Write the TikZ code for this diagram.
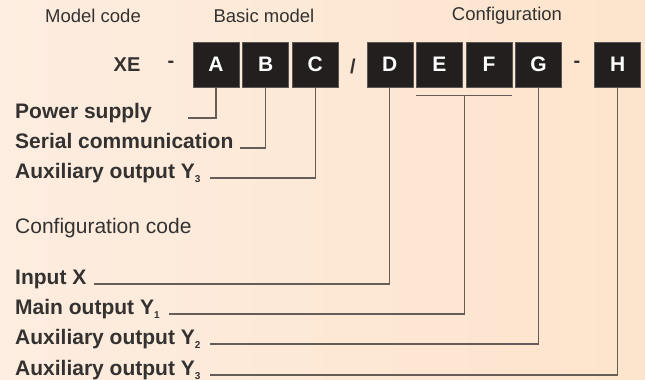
\documentclass[tikz,border=0pt]{standalone}
\usepackage{fontspec}
\setmainfont{Liberation Sans}
\usepackage{xcolor}
\definecolor{bgleft}{RGB}{253,237,224}
\definecolor{bgright}{RGB}{253,228,204}
\definecolor{ink}{RGB}{52,50,48}
\definecolor{boxfill}{RGB}{34,31,30}
\definecolor{wire}{RGB}{100,93,88}
\usepackage{tikz}
\usetikzlibrary{positioning, calc}
\newcommand{\lowsub}[1]{\raisebox{-4pt}{\fontsize{10}{10}\selectfont #1}}

\begin{document}
\begin{tikzpicture}[x=1pt, y=-1pt,
    code/.style={rectangle, fill=boxfill, draw=boxfill!75!white, line width=0.6pt,
                 minimum width=46pt, minimum height=45pt, inner sep=0pt,
                 text=white, font=\bfseries\fontsize{21}{21}\selectfont},
    lbl/.style={anchor=base west, inner sep=0pt, text=ink,
                font=\bfseries\fontsize{21}{21}\selectfont},
    hd/.style={inner sep=0pt, text=ink, font=\fontsize{18.5}{18.5}\selectfont},
    sep/.style={inner sep=0pt, text=ink, font=\bfseries\fontsize{20}{20}\selectfont},
    w/.style={draw=wire, line width=1.3pt}]
  \shade[left color=bgleft, right color=bgright] (0,0) rectangle (645,380);
  \useasboundingbox (0,0) rectangle (645,380);
  % headings
  \node[hd] (mc) at (93,16) {Model code};
  \node[hd] (bm) at (264,16) {Basic model};
  \node[hd] (cf) at (507,16) {Configuration};
  % code row
  \node[sep] (xe) at (127,65) {XE};
  \node[sep, anchor=base] (dash1) at (171,67.5) {-};
  \node[code] (A) at (216,64.5) {A};
  \node[code, right=3pt of A] (B) {B};
  \node[code, right=3pt of B] (C) {C};
  \node[sep, anchor=base] (slash) at (353,73) {/};
  \node[code, right=28pt of C] (D) {D};
  \node[code, right=3pt of D] (E) {E};
  \node[code, right=3pt of E] (F) {F};
  \node[code, right=3pt of F] (G) {G};
  \node[sep, anchor=base] (dash2) at (577,67.5) {-};
  \node[code, right=32.5pt of G] (H) {H};
  % basic model labels
  \node[lbl] (ps) at (15,118) {Power supply};
  \node[lbl] (sc) at (15,148) {Serial communication};
  \node[lbl] (ax) at (15,178) {Auxiliary output Y\lowsub{3}};
  \node[hd, anchor=base west, font=\fontsize{21}{21}\selectfont] (cc) at (15,233) {Configuration code};
  % configuration labels
  \node[lbl] (ix) at (15,284) {Input X};
  \node[lbl] (my) at (15,314) {Main output Y\lowsub{1}};
  \node[lbl] (ay) at (15,344) {Auxiliary output Y\lowsub{2}};
  \node[lbl] (az) at (15,375) {Auxiliary output Y\lowsub{3}};
  % leaders
  \draw[w] (A.south) |- ([xshift=36.5pt]ps.base east);
  \draw[w] (B.south) |- ([xshift=6pt]sc.base east);
  \draw[w] (C.south) |- ([xshift=9pt]ax.base east);
  \draw[w] (D.south) |- ([xshift=7pt]ix.base east);
  \draw[w] ([yshift=-8pt]E.south west) -- ([yshift=-8pt]F.south east);
  \coordinate (ef) at ($(E.south east)!.5!(F.south west) + (0,8)$);
  \draw[w] (ef) |- ([xshift=9pt]my.base east);
  \draw[w] (G.south) |- ([xshift=9pt]ay.base east);
  \draw[w] (H.south) |- ([xshift=9pt]az.base east);
\end{tikzpicture}
\end{document}
